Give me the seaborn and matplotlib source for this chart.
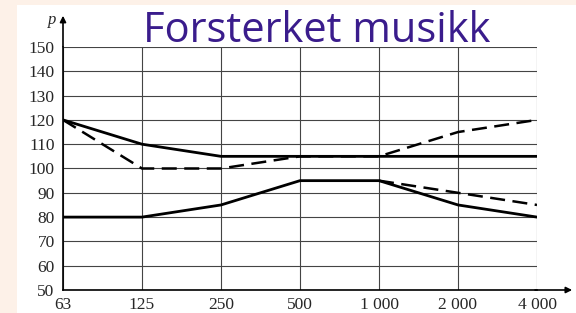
import numpy as np
import pandas as pd
import matplotlib.pyplot as plt
import seaborn as sns
from matplotlib.patches import Rectangle

sns.set_style('white')

# data
freqs = ['63', '125', '250', '500', '1 000', '2 000', '4 000']
upper_solid = [120, 110, 105, 105, 105, 105, 105]
upper_dashed = [120, 100, 100, 105, 105, 115, 120]
lower_solid = [80, 80, 85, 95, 95, 85, 80]
lower_dashed = [np.nan, np.nan, np.nan, np.nan, 95, 90, 85]
y_ticks = list(range(50, 151, 10))

x = np.arange(len(freqs))

fig = plt.figure(figsize=(5.76, 3.13), dpi=100)
fig.patch.set_facecolor('#fdf1e8')
# white panel behind the chart
fig.patches.append(Rectangle((17 / 576, 0), 1, 1 - 5 / 313, transform=fig.transFigure,
                             facecolor='white', edgecolor='none', zorder=-10))

ax = fig.add_axes([63 / 576, 1 - 290 / 313, (537 - 63) / 576, (290 - 47) / 313])
ax.set_facecolor('none')
ax.set_zorder(5)

sns.lineplot(x=x, y=upper_dashed, ax=ax, color='black', lw=1.8,
             linestyle=(0, (6, 3)), zorder=3)
sns.lineplot(x=x, y=lower_dashed, ax=ax, color='black', lw=1.8,
             linestyle=(0, (6, 3)), zorder=3)
sns.lineplot(x=x, y=upper_solid, ax=ax, color='black', lw=2, zorder=4)
sns.lineplot(x=x, y=lower_solid, ax=ax, color='black', lw=2, zorder=4)

ax.set_xlim(0, len(freqs) - 1)
ax.set_ylim(50, 150)
ax.set_xticks(x)
ax.set_xticklabels(freqs)
ax.set_yticks(y_ticks)
ax.grid(True, color='#444444', lw=0.8)
for s in ['top', 'right']:
    ax.spines[s].set_visible(False)
for s in ['left', 'bottom']:
    ax.spines[s].set_color('black')
    ax.spines[s].set_linewidth(1.2)
ax.tick_params(axis='y', length=0, pad=6, labelsize=12.5)
ax.tick_params(axis='x', length=0, pad=5, labelsize=12.5)
for lab in ax.get_xticklabels() + ax.get_yticklabels():
    lab.set_family('Liberation Serif')

# axis arrows
ax.annotate('', xy=(0, 1.14), xytext=(0, 0.99), xycoords='axes fraction',
            arrowprops=dict(arrowstyle='-|>', color='black', lw=1.2, mutation_scale=9),
            annotation_clip=False)
ax.annotate('', xy=(1.08, 0), xytext=(0.99, 0), xycoords='axes fraction',
            arrowprops=dict(arrowstyle='-|>', color='black', lw=1.2, mutation_scale=9),
            annotation_clip=False)
ax.text(-0.015, 1.11, 'p', transform=ax.transAxes, fontsize=12, style='italic',
        family='Liberation Serif', ha='right', va='center')
ax.text(1.1, -0.06, 'f', transform=ax.transAxes, fontsize=12, style='italic',
        family='Liberation Serif', ha='left', va='center')

fig.text(317 / 576, 1 - 42 / 313, 'Forsterket musikk', fontsize=30, color='#3a1c8c',
         family='Open Sans', ha='center', va='baseline')

plt.savefig('out.png', dpi=100, facecolor=fig.get_facecolor())
